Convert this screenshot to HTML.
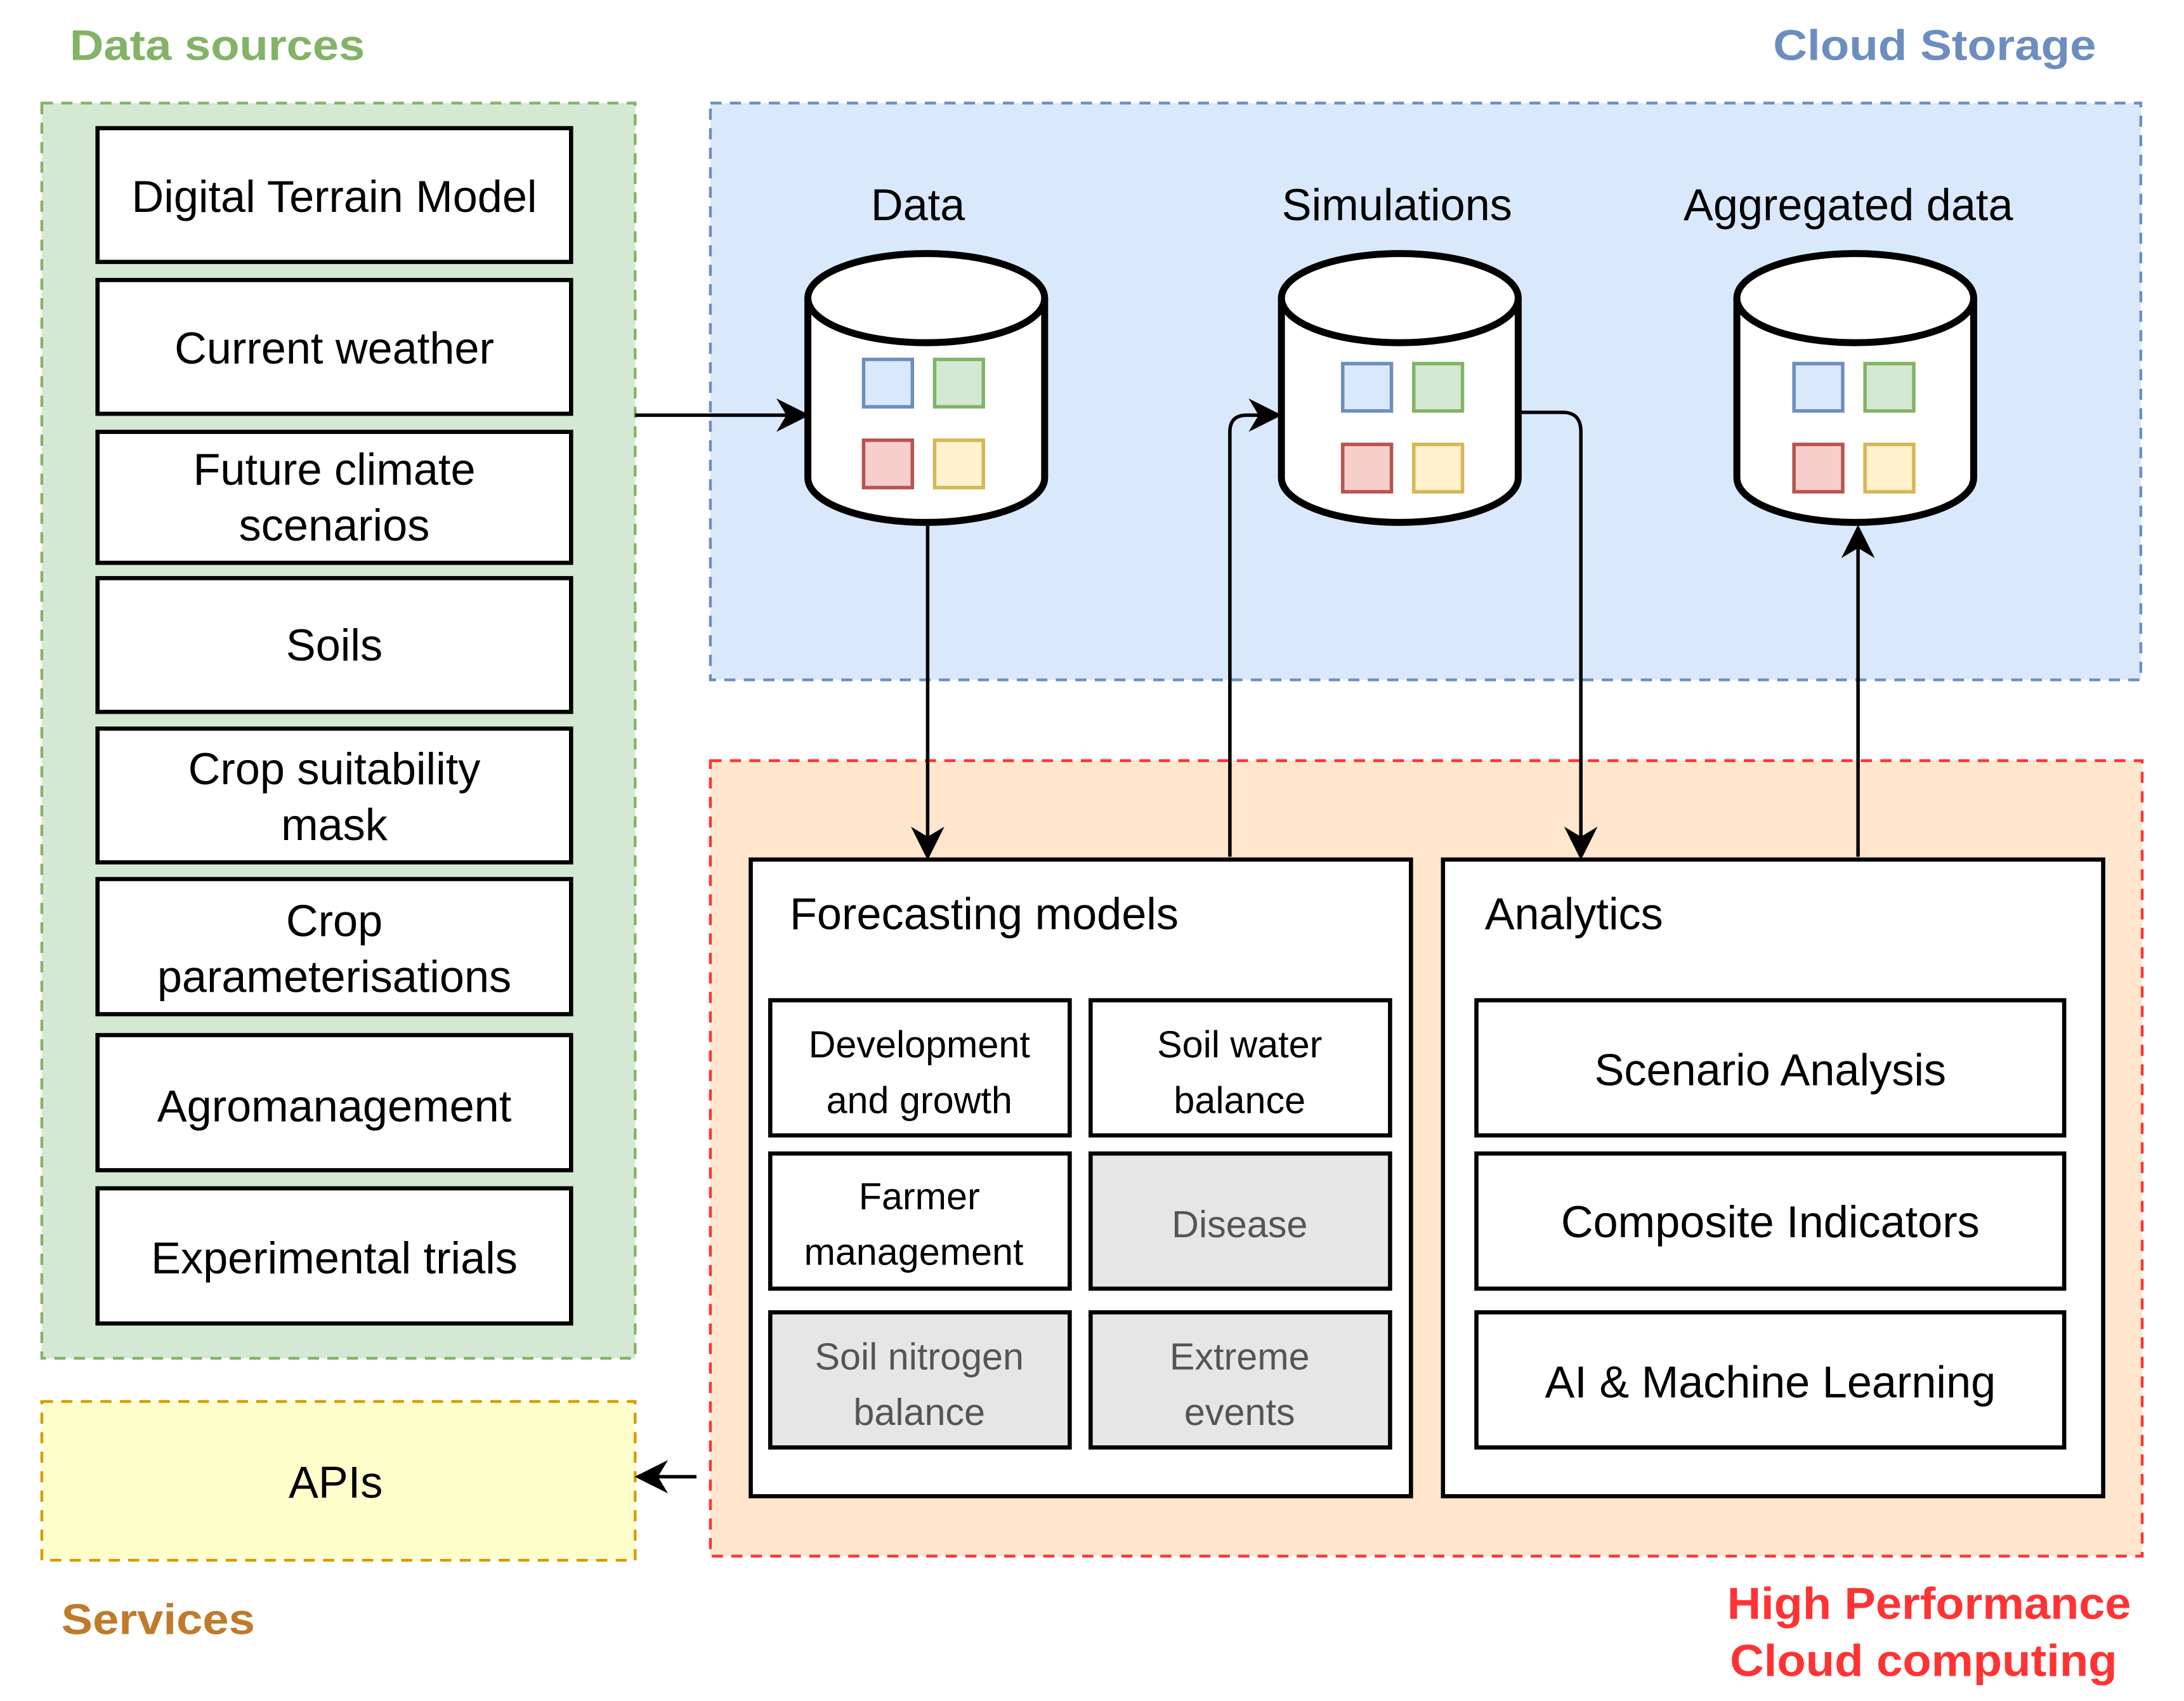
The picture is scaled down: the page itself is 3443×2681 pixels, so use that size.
<!DOCTYPE html>
<html><head><meta charset="utf-8"><style>html,body{margin:0;padding:0;background:#fff}svg{display:block}</style></head>
<body>
<svg xmlns="http://www.w3.org/2000/svg" width="3443" height="2681" viewBox="0 0 1568 1221" font-family="Liberation Sans, Arial, sans-serif">
<defs>
<marker id="ah2" viewBox="0 0 10 10" refX="9" refY="5" markerWidth="24" markerHeight="24" markerUnits="userSpaceOnUse" orient="auto"><path d="M0,0 L10,5 L0,10 L3,5 z" fill="#000"/></marker>
<g id="cyl">
<path d="M-85,-83 L-85,46 A85,32 0 0 0 85,46 L85,-83" fill="#fff" stroke="#000" stroke-width="5"/>
<ellipse cx="0" cy="-83" rx="85" ry="32" fill="#fff" stroke="#000" stroke-width="5"/>
</g>
</defs>
<rect width="1568" height="1221" fill="#fff"/>
<text x="50" y="43" font-size="31" font-weight="bold" fill="#82b366" textLength="212" lengthAdjust="spacingAndGlyphs">Data sources</text>
<text x="1273" y="43" font-size="31" font-weight="bold" fill="#6c8ebf" textLength="232" lengthAdjust="spacingAndGlyphs">Cloud Storage</text>

<rect x="30" y="74" width="426" height="901" fill="#d5e8d4" stroke="#82b366" stroke-width="2" stroke-dasharray="8,6"/>
<g fill="#fff" stroke="#000" stroke-width="3">
<rect x="70" y="92" width="340" height="96"/>
<rect x="70" y="201" width="340" height="96"/>
<rect x="70" y="310" width="340" height="94"/>
<rect x="70" y="415" width="340" height="96"/>
<rect x="70" y="523" width="340" height="96"/>
<rect x="70" y="631" width="340" height="97"/>
<rect x="70" y="743" width="340" height="97"/>
<rect x="70" y="853" width="340" height="97"/>
</g>
<g font-size="32" text-anchor="middle" fill="#000">
<text x="240" y="152">Digital Terrain Model</text>
<text x="240" y="261">Current weather</text>
<text x="240" y="348">Future climate</text>
<text x="240" y="388">scenarios</text>
<text x="240" y="474">Soils</text>
<text x="240" y="563">Crop suitability</text>
<text x="240" y="603">mask</text>
<text x="240" y="672">Crop</text>
<text x="240" y="712">parameterisations</text>
<text x="240" y="805">Agromanagement</text>
<text x="240" y="914">Experimental trials</text>
</g>

<rect x="510" y="74" width="1027" height="414" fill="#dae8fc" stroke="#6c8ebf" stroke-width="2" stroke-dasharray="8,6"/>
<rect x="510" y="546" width="1028" height="571" fill="#ffe6cc" stroke="#ff3333" stroke-width="2" stroke-dasharray="8,6"/>

<g font-size="32" text-anchor="middle">
<text x="659" y="158">Data</text>
<text x="1003" y="158">Simulations</text>
<text x="1327" y="158">Aggregated data</text>
</g>
<use href="#cyl" x="665" y="297"/>
<use href="#cyl" x="1005" y="297"/>
<use href="#cyl" x="1332" y="297"/>
<g stroke-width="2.5">
<rect x="620" y="258" width="35" height="34" fill="#dae8fc" stroke="#6c8ebf"/>
<rect x="671" y="258" width="35" height="34" fill="#d5e8d4" stroke="#82b366"/>
<rect x="620" y="316" width="35" height="34" fill="#f8cecc" stroke="#b85450"/>
<rect x="671" y="316" width="35" height="34" fill="#fff2cc" stroke="#d6b656"/>
<rect x="964" y="261" width="35" height="34" fill="#dae8fc" stroke="#6c8ebf"/>
<rect x="1015" y="261" width="35" height="34" fill="#d5e8d4" stroke="#82b366"/>
<rect x="964" y="319" width="35" height="34" fill="#f8cecc" stroke="#b85450"/>
<rect x="1015" y="319" width="35" height="34" fill="#fff2cc" stroke="#d6b656"/>
<rect x="1288" y="261" width="35" height="34" fill="#dae8fc" stroke="#6c8ebf"/>
<rect x="1339" y="261" width="35" height="34" fill="#d5e8d4" stroke="#82b366"/>
<rect x="1288" y="319" width="35" height="34" fill="#f8cecc" stroke="#b85450"/>
<rect x="1339" y="319" width="35" height="34" fill="#fff2cc" stroke="#d6b656"/>
</g>

<g fill="#fff" stroke="#000" stroke-width="3">
<rect x="539" y="617" width="474" height="457"/>
<rect x="1036" y="617" width="474" height="457"/>
<rect x="553" y="718" width="215" height="97"/>
<rect x="783" y="718" width="215" height="97"/>
<rect x="553" y="828" width="215" height="97"/>
<rect x="783" y="828" width="215" height="97" fill="#e6e6e6"/>
<rect x="553" y="942" width="215" height="97" fill="#e6e6e6"/>
<rect x="783" y="942" width="215" height="97" fill="#e6e6e6"/>
<rect x="1060" y="718" width="422" height="97"/>
<rect x="1060" y="828" width="422" height="97"/>
<rect x="1060" y="942" width="422" height="97"/>
</g>
<text x="567" y="667" font-size="32">Forecasting models</text>
<text x="1066" y="667" font-size="32">Analytics</text>
<g font-size="27" text-anchor="middle">
<text x="660" y="759">Development</text>
<text x="660" y="799">and growth</text>
<text x="890" y="759">Soil water</text>
<text x="890" y="799">balance</text>
<text x="660" y="868">Farmer</text>
<text x="656" y="908">management</text>
<g fill="#555">
<text x="890" y="888">Disease</text>
<text x="660" y="983">Soil nitrogen</text>
<text x="660" y="1023">balance</text>
<text x="890" y="983">Extreme</text>
<text x="890" y="1023">events</text>
</g>
</g>
<g font-size="32" text-anchor="middle">
<text x="1271" y="779">Scenario Analysis</text>
<text x="1271" y="888">Composite Indicators</text>
<text x="1271" y="1003">AI &amp; Machine Learning</text>
</g>

<rect x="30" y="1006" width="426" height="114" fill="#ffffcc" stroke="#d79b00" stroke-width="2" stroke-dasharray="8,6"/>
<text x="241" y="1075" font-size="32" text-anchor="middle">APIs</text>
<text x="44" y="1173" font-size="31" font-weight="bold" fill="#c07a2a" textLength="139" lengthAdjust="spacingAndGlyphs">Services</text>
<text x="1240" y="1162" font-size="32" font-weight="bold" fill="#ff3333" textLength="290" lengthAdjust="spacingAndGlyphs">High Performance</text>
<text x="1242" y="1203" font-size="32" font-weight="bold" fill="#ff3333" textLength="278" lengthAdjust="spacingAndGlyphs">Cloud computing</text>

<g fill="none" stroke="#000" stroke-width="2.5" marker-end="url(#ah2)">
<path d="M456,298 L579,298"/>
<path d="M666,377 L666,615"/>
<path d="M883,615 L883,310 Q883,298 895,298 L918,298"/>
<path d="M1092,296 L1122,296 Q1135,296 1135,310 L1135,615"/>
<path d="M1334,615 L1334,379"/>
<path d="M500,1060 L458,1060"/>
</g>
</svg>
</body></html>
